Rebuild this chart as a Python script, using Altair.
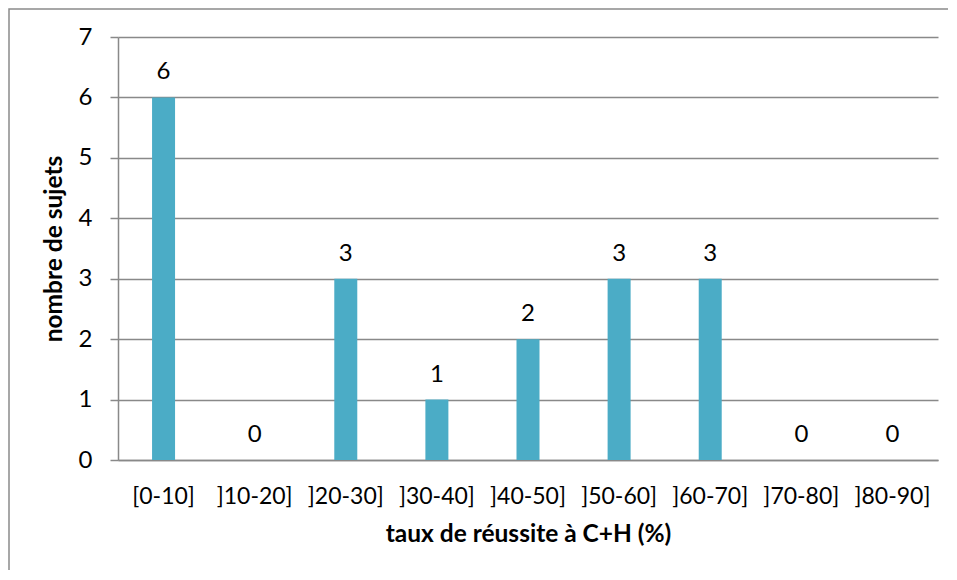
import altair as alt
import pandas as pd

categories = ["[0-10]", "]10-20]", "]20-30]", "]30-40]", "]40-50]", "]50-60]", "]60-70]", "]70-80]", "]80-90]"]
counts = [6, 0, 3, 1, 2, 3, 3, 0, 0]

df = pd.DataFrame({"cat": categories, "n": counts})

FONT = "Lato"
GRID = "#898989"

x = alt.X("cat:N", sort=categories,
          axis=alt.Axis(title="taux de réussite à C+H (%)", labelAngle=0, ticks=False, tickSize=0,
                        labelPadding=25, titlePadding=14, domainColor=GRID, domainWidth=1.5,
                        labelFontSize=23, titleFontSize=24.5))
y = alt.Y("n:Q", scale=alt.Scale(domain=[0, 7], nice=False),
          axis=alt.Axis(title="nombre de sujets", values=list(range(8)), format="d", tickSize=8, tickColor=GRID,
                        tickWidth=1.5, labelPadding=18, titlePadding=12, domainColor=GRID,
                        domainWidth=1.5, gridColor=GRID, gridWidth=1.5,
                        labelFontSize=24, titleFontSize=24.5))

border = alt.Chart(pd.DataFrame({"a": [0]})).mark_rect(fill=None, stroke="#8a8a8a", strokeWidth=1.5).encode(
    x=alt.value(-109), x2=alt.value(900), y=alt.value(-28), y2=alt.value(600))

bars = alt.Chart(df).mark_bar(size=23, color="#4BACC6").encode(x=x, y=y)
labels = alt.Chart(df).mark_text(baseline="alphabetic", dy=-18, fontSize=24, font=FONT, color="#000000").encode(
    x=alt.X("cat:N", sort=categories), y="n:Q", text="n:Q")

chart = alt.layer(border, bars, labels).properties(
    width=820, height=423,
    autosize=alt.AutoSizeParams(type="none"),
    padding={"left": 110, "top": 29, "right": 10, "bottom": 110},
).configure_view(stroke=None).configure_axis(
    labelFont=FONT, titleFont=FONT,
    labelColor="#000000", titleColor="#000000", titleFontWeight="bold"
).configure_axisX(grid=False)

chart.save("out.html", embed_options={"renderer": "svg", "actions": False})
